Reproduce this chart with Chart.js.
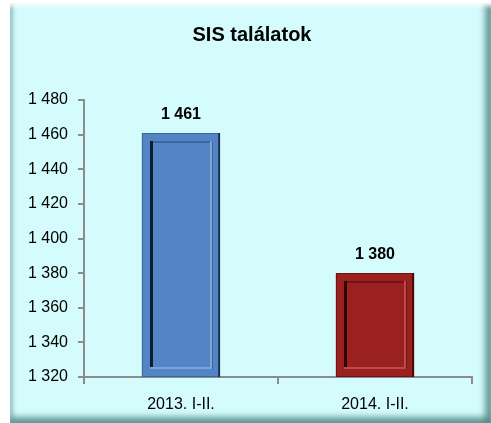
<!DOCTYPE html>
<html>
<head>
<meta charset="utf-8">
<script src="https://cdn.jsdelivr.net/npm/chart.js@4/dist/chart.umd.min.js"></script>
<style>
  html, body { margin: 0; padding: 0; background: #ffffff; }
  #wrap { position: relative; width: 491px; height: 423px; }
  #panel {
    position: absolute; left: 10px; top: 3px; width: 481px; height: 420px;
    background: #d5fcfc;
    box-shadow:
      inset 0 5px 4px -2px rgba(255,255,255,0.95),
      inset 5px 0 4px -2px rgba(95,150,150,0.6),
      inset -10px 0 6px -4px rgba(80,135,135,0.85),
      inset 0 -10px 6px -4px rgba(80,135,135,0.85);
  }
  canvas { position: absolute; left: 0; top: 0; }
</style>
</head>
<body>
<div id="wrap">
  <div id="panel"></div>
  <canvas id="c" width="491" height="423"></canvas>
</div>
<script>
const titleText = 'SIS találatok';
const categories = ['2013. I-II.', '2014. I-II.'];
const hits = [1461, 1380];
const barColors = ['#5384c6', '#9b2121'];
const rimColors = ['#3d6699', '#6e1414'];
const shadowColors = ['#0f1c2e', '#2e0404'];
const lightColors = ['#7ea3d6', '#bb4a4a'];
const yMin = 1320, yMax = 1480, yStep = 20;

const FONT = "'Liberation Sans', Arial, sans-serif";

function fmt(v) {
  const n = Math.round(v);
  if (n < 1000) return String(n);
  return Math.floor(n / 1000) + ' ' + String(n % 1000).padStart(3, '0');
}

// Heading centred over the framed panel
const panelTitle = {
  id: 'panelTitle',
  afterDraw(chart) {
    const ctx = chart.ctx;
    ctx.save();
    ctx.fillStyle = '#000000';
    ctx.font = "bold 20px " + FONT;
    ctx.textAlign = 'center';
    ctx.textBaseline = 'middle';
    ctx.fillText(titleText, 252, 35);
    ctx.restore();
  }
};

// Raised-panel look on each bar, plus the value printed above it
const bevelAndLabels = {
  id: 'bevelAndLabels',
  afterDatasetsDraw(chart) {
    const ctx = chart.ctx;
    const area = chart.chartArea;
    const meta = chart.getDatasetMeta(0);
    meta.data.forEach((bar, i) => {
      const w = bar.width;
      const x0 = Math.round(bar.x - w / 2), x1 = Math.round(bar.x + w / 2);
      const y0 = Math.round(bar.y), y1 = Math.round(Math.min(bar.base, area.bottom));
      const ins = 8;
      ctx.save();
      // outer rim
      ctx.strokeStyle = rimColors[i];
      ctx.lineWidth = 1;
      ctx.strokeRect(x0 + 0.5, y0 + 0.5, x1 - x0 - 1, y1 - y0 - 1);
      // dark outer right edge
      ctx.fillStyle = shadowColors[i];
      ctx.globalAlpha = 0.7;
      ctx.fillRect(x1 - 2, y0, 2, y1 - y0);
      ctx.globalAlpha = 1;
      // inner panel edges
      const ix0 = x0 + ins, ix1 = x1 - ins, iy0 = y0 + ins, iy1 = y1 - ins;
      ctx.fillStyle = rimColors[i];
      ctx.fillRect(ix0, iy0, ix1 - ix0, 2);
      ctx.fillStyle = shadowColors[i];
      ctx.fillRect(ix0, iy0, 3, iy1 - iy0);
      ctx.fillStyle = lightColors[i];
      ctx.fillRect(ix0, iy1 - 2, ix1 - ix0, 2);
      ctx.fillRect(ix1 - 2, iy0, 2, iy1 - iy0);
      ctx.fillStyle = rimColors[i];
      ctx.fillRect(ix1, iy0, 1, iy1 - iy0);
      // value label
      ctx.fillStyle = '#000000';
      ctx.font = "bold 16px " + FONT;
      ctx.textAlign = 'center';
      ctx.textBaseline = 'middle';
      ctx.fillText(fmt(hits[i]), bar.x, y0 - 18);
      ctx.restore();
    });
  }
};

new Chart(document.getElementById('c'), {
  type: 'bar',
  data: {
    labels: categories,
    datasets: [{
      data: hits,
      backgroundColor: barColors,
      borderWidth: 0,
      categoryPercentage: 1,
      barPercentage: 0.404
    }]
  },
  options: {
    responsive: false,
    animation: false,
    layout: { padding: { left: 0, right: 19, top: 100, bottom: 0 } },
    plugins: {
      legend: { display: false },
      tooltip: { enabled: false },
      title: { display: false }
    },
    scales: {
      x: {
        afterFit(s) { s.height = 46; },
        grid: { display: true, drawOnChartArea: false, drawTicks: true, tickLength: 7, color: '#8c8c8c', lineWidth: 2 },
        border: { display: true, color: '#8c8c8c', width: 2 },
        ticks: { color: '#000000', padding: 11, font: { family: FONT, size: 16 } }
      },
      y: {
        min: yMin, max: yMax,
        afterFit(s) { s.width = 84; },
        grid: { display: true, drawOnChartArea: false, drawTicks: true, tickLength: 6, color: '#8c8c8c', lineWidth: 2 },
        border: { display: true, color: '#8c8c8c', width: 2 },
        ticks: { stepSize: yStep, color: '#000000', padding: 10, font: { family: FONT, size: 16 }, callback: v => fmt(v) }
      }
    }
  },
  plugins: [bevelAndLabels, panelTitle]
});
</script>
</body>
</html>
